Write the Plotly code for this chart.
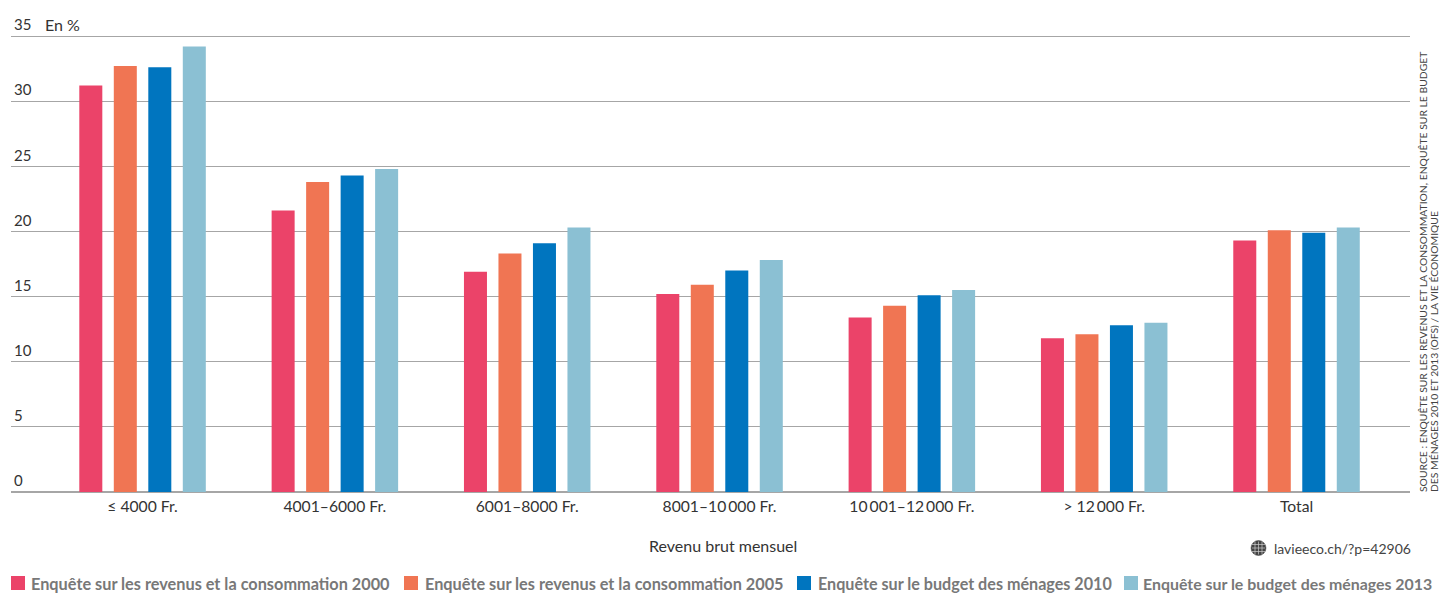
import plotly.graph_objects as go

W, H = 1439, 593
L, R, T, B = 11, 1410, 10, 492
UNIT = (492 - 36) / 35  # pixels per percentage point

categories = ["≤ 4000 Fr.", "4001–6000 Fr.", "6001–8000 Fr.", "8001–10\u2009000 Fr.",
              "10\u2009001–12\u2009000 Fr.", "> 12\u2009000 Fr.", "Total"]
s2000 = [31.2, 21.6, 16.9, 15.2, 13.4, 11.8, 19.3]
s2005 = [32.7, 23.8, 18.3, 15.9, 14.3, 12.1, 20.1]
s2010 = [32.6, 24.3, 19.1, 17.0, 15.1, 12.8, 19.9]
s2013 = [34.2, 24.8, 20.3, 17.8, 15.5, 13.0, 20.3]
names = ["Enquête sur les revenus et la consommation 2000",
         "Enquête sur les revenus et la consommation 2005",
         "Enquête sur le budget des ménages 2010",
         "Enquête sur le budget des ménages 2013"]
colors = ["#EB4369", "#F07553", "#0075BF", "#8BC0D3"]
y_ticks = [0, 5, 10, 15, 20, 25, 30, 35]

FONT = "Lato"
TXT = "#333333"
px = lambda x: (x - L) / (R - L)
py = lambda y: (B - y) / (B - T)

fig = go.Figure()
for vals, n, c in zip([s2000, s2005, s2010, s2013], names, colors):
    fig.add_trace(go.Bar(x=categories, y=vals, name=n, marker=dict(color=c, line=dict(width=0)),
                         hoverinfo="x+y+name", showlegend=False))

shapes = [
    dict(type="circle", xref="paper", yref="paper", x0=px(1251), x1=px(1266), y0=py(555.5), y1=py(540.5),
         fillcolor="#444444", line=dict(color="#444444", width=0.5)),
]
for dx in (-3.5, 0, 3.5):
    shapes.append(dict(type="line", xref="paper", yref="paper", x0=px(1258.5 + dx), x1=px(1258.5 + dx),
                       y0=py(541.5), y1=py(554.5), line=dict(color="#cccccc", width=0.7)))
for dy in (-3.5, 0, 3.5):
    shapes.append(dict(type="line", xref="paper", yref="paper", x0=px(1252), x1=px(1265),
                       y0=py(548 + dy), y1=py(548 + dy), line=dict(color="#cccccc", width=0.7)))

def note(text, x, y, size=15, color=TXT, xanchor="left", angle=0, yanchor="middle", weight=400):
    return dict(text=text, xref="paper", yref="paper", x=px(x), y=py(y), xanchor=xanchor, yanchor=yanchor,
                showarrow=False, textangle=angle, font=dict(family=FONT, size=size, color=color, weight=weight),
                borderpad=0, borderwidth=0)

annotations = [
    note("En %", 45, 24.5, size=16),
    note("Revenu brut mensuel", 722.5, 545, size=16, xanchor="center"),
    note("lavieeco.ch/?p=42906", 1411, 548, size=14, color="#444444", xanchor="right"),
    note("SOURCE : ENQUÊTE SUR LES REVENUS ET LA CONSOMMATION, ENQUÊTE SUR LE BUDGET",
         1423, 492, size=10.35, color="#444444", xanchor="center", angle=-90, yanchor="bottom"),
    note("DES MÉNAGES 2010 ET 2013 (OFS) / LA VIE ÉCONOMIQUE",
         1433.5, 492, size=10.35, color="#444444", xanchor="center", angle=-90, yanchor="bottom"),
]

# Legend row: swatch, label start and label size per series
for n, c, sx, tx, fs in zip(names, colors, [11, 404, 797, 1124], [31, 425, 818, 1143], [16.3, 16.3, 16.15, 15.9]):
    shapes.append(dict(type="rect", xref="paper", yref="paper", x0=px(sx), x1=px(sx + 14),
                       y0=py(590), y1=py(576), fillcolor=c, line=dict(width=0)))
    annotations.append(note(n, tx, 583.5, size=fs, color="#787878", weight=700))

fig.update_layout(
    width=W, height=H, autosize=False,
    margin=dict(l=L, r=W - R, t=T, b=H - B, pad=0),
    paper_bgcolor="white", plot_bgcolor="white",
    showlegend=False,
    barmode="group", bargap=0.2825, bargroupgap=0.333,
    font=dict(family=FONT, size=15, color=TXT),
    xaxis=dict(type="category", range=[-0.684, 6.59], showgrid=False, ticks="", showline=False,
               tickfont=dict(size=15.7, color=TXT), ticklabelstandoff=3),
    yaxis=dict(range=[0, (B - T) / UNIT], tickvals=y_ticks, ticktext=[str(v) for v in y_ticks],
               ticklabelposition="inside", ticklabelshift=-11, ticks="",
               showgrid=True, gridcolor="#a6a6a6", gridwidth=1.2,
               zeroline=True, zerolinecolor="#a6a6a6", zerolinewidth=1.6, showline=False,
               tickfont=dict(size=15, color=TXT), layer="above traces"),
    shapes=shapes,
    annotations=annotations,
)
fig.write_html("out.html", config=dict(displayModeBar=False),
               post_script="document.body.style.margin='0';")
